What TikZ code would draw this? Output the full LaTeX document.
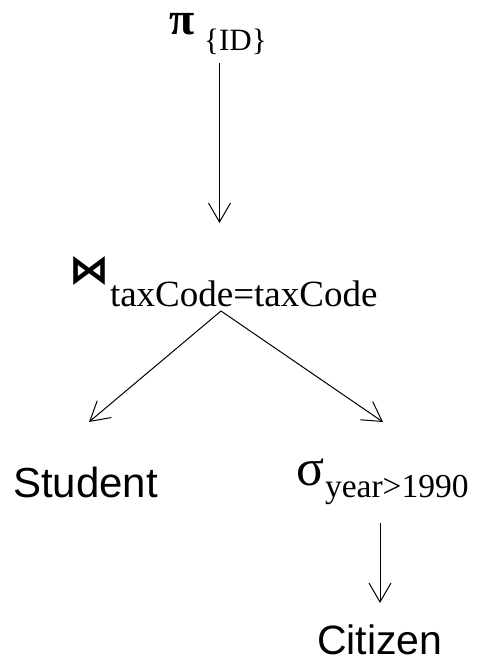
\documentclass[tikz,border=0pt]{standalone}
\usepackage{fontspec}
\setmainfont{Liberation Serif}
\newfontfamily\arialfont{Liberation Sans}
\newfontfamily\symfont{DejaVu Sans}
\usetikzlibrary{arrows.meta}
\begin{document}
\begin{tikzpicture}[x=1pt,y=1pt,
  lbl/.style={inner sep=0pt, outer sep=0pt, anchor=base west},
  arr/.style={line width=1pt, -{Straight Barb[length=19pt,width=22pt,line width=1pt]}}]
\useasboundingbox (0,0) rectangle (477,-659);
% nodes
\node[lbl] (pi) at (169,-34) {{\bfseries\fontsize{46}{46}\selectfont π}\hspace{10pt}\raisebox{-16pt}{\fontsize{31}{31}\selectfont\{ID\}}};
\node[lbl] (join) at (69,-283) {{\symfont\bfseries\fontsize{40}{40}\selectfont ⋈}\hspace{1pt}\raisebox{-23pt}{\fontsize{37}{37}\selectfont taxCode=taxCode}};
\node[lbl] (student) at (13,-497) {\arialfont\fontsize{42}{42}\selectfont Student};
\node[lbl] (sigma) at (296,-485) {{\fontsize{52}{52}\selectfont σ}\hspace{1pt}\raisebox{-12pt}{\fontsize{33.5}{33.5}\selectfont year>1990}};
\node[lbl] (citizen) at (317,-654) {\arialfont\fontsize{41}{41}\selectfont Citizen};
% connector ends
\coordinate (piout) at (219.5,-63);
\coordinate (joinin) at (219.5,-223);
\coordinate (joinout) at (221,-311);
\coordinate (studentin) at (89,-422);
\coordinate (sigmain) at (383,-422);
\coordinate (sigmaout) at (380,-523);
\coordinate (citizenin) at (380,-603);
% connectors
\draw[arr] (piout) -- (joinin);
\draw[arr] (joinout) -- (studentin);
\draw[arr] (joinout) -- (sigmain);
\draw[arr] (sigmaout) -- (citizenin);
\end{tikzpicture}
\end{document}
